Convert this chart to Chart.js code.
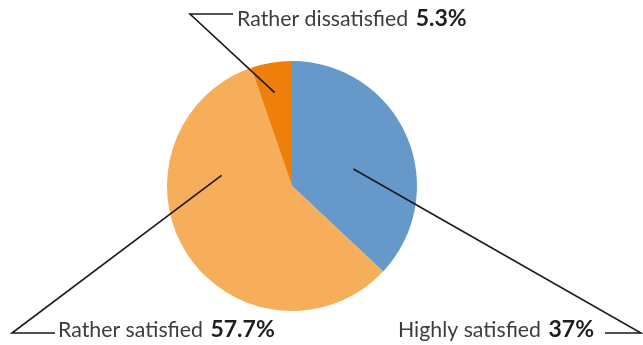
<!DOCTYPE html>
<html>
<head>
<meta charset="utf-8">
<script src="https://cdn.jsdelivr.net/npm/chart.js@4/dist/chart.umd.min.js"></script>
<style>
  html, body { margin: 0; padding: 0; background: #fff; }
  #wrap { width: 643px; height: 345px; position: relative; }
</style>
</head>
<body>
<div id="wrap"><canvas id="c"></canvas></div>
<script>
// Satisfaction shares, clockwise from 12 o'clock
const categories = ['Highly satisfied', 'Rather satisfied', 'Rather dissatisfied'];
const shares = [37, 57.7, 5.3];
const sliceColors = ['#6699CA', '#F6AE5B', '#EE7F0A'];

// Callout geometry: where each leader line starts inside its slice
// (position along the slice's sweep, fraction of radius) and where it
// bends / ends outside the pie, plus where the text sits.
const callouts = [
  { along: 0.56, depth: 0.51, elbow: [641, 333], tail: [605, 333], textX: 594, baseY: 337, align: 'right' },
  { along: 0.70, depth: 0.57, elbow: [12, 333],  tail: [55, 333],  textX: 58,  baseY: 337, align: 'left' },
  { along: 0.45, depth: 0.76, elbow: [190, 14],  tail: [233, 14],  textX: 237, baseY: 26,  align: 'left' }
];

const labelFont = '21.3px Lato, "Open Sans", sans-serif';
const valueFont = 'bold 23px Lato, "Open Sans", sans-serif';

const calloutPlugin = {
  id: 'callouts',
  afterDraw(chart) {
    const ctx = chart.ctx;
    const meta = chart.getDatasetMeta(0);
    meta.data.forEach((arc, i) => {
      const c = callouts[i];
      const p = arc.getProps(['x', 'y', 'startAngle', 'endAngle', 'outerRadius'], true);
      const a = p.startAngle + (p.endAngle - p.startAngle) * c.along;
      const r = p.outerRadius * c.depth;
      const x0 = p.x + Math.cos(a) * r;
      const y0 = p.y + Math.sin(a) * r;

      ctx.save();
      ctx.strokeStyle = '#1a1a1a';
      ctx.lineWidth = 1.6;
      ctx.beginPath();
      ctx.moveTo(x0, y0);
      ctx.lineTo(c.elbow[0], c.elbow[1]);
      ctx.lineTo(c.tail[0], c.tail[1]);
      ctx.stroke();

      const name = categories[i] + ' ';
      const val = shares[i] + '%';
      ctx.textBaseline = 'alphabetic';
      ctx.textAlign = 'left';
      ctx.font = labelFont;
      const wName = ctx.measureText(name).width + 2;
      ctx.font = valueFont;
      const wVal = ctx.measureText(val).width;
      let x = c.align === 'right' ? c.textX - wName - wVal : c.textX;
      ctx.font = labelFont;
      ctx.fillStyle = '#3d3d3d';
      ctx.fillText(name, x, c.baseY);
      ctx.font = valueFont;
      ctx.fillStyle = '#1e1e1e';
      ctx.fillText(val, x + wName, c.baseY);
      ctx.restore();
    });
  }
};

new Chart(document.getElementById('c'), {
  type: 'pie',
  data: {
    labels: categories,
    datasets: [{
      data: shares,
      backgroundColor: sliceColors,
      borderWidth: 0
    }]
  },
  options: {
    responsive: true,
    maintainAspectRatio: false,
    animation: false,
    layout: { padding: { top: 61, bottom: 34, left: 167, right: 226 } },
    plugins: {
      legend: { display: false },
      tooltip: { enabled: false }
    }
  },
  plugins: [calloutPlugin]
});
</script>
</body>
</html>
